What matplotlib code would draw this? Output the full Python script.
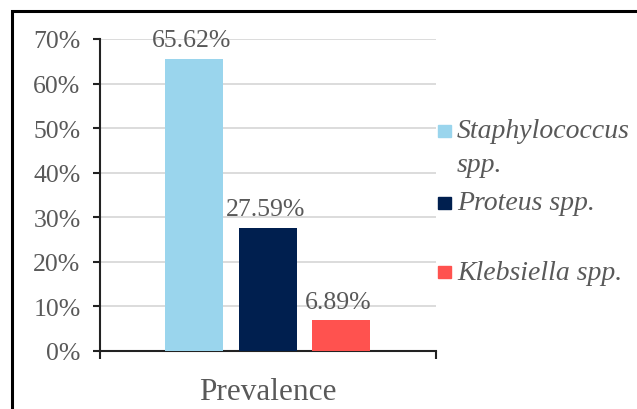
import matplotlib
matplotlib.use("Agg")
import matplotlib.pyplot as plt
from matplotlib.patches import Rectangle
from matplotlib.ticker import FuncFormatter

category = "Prevalence"
series = ["Staphylococcus\nspp.", "Proteus spp.", "Klebsiella spp."]
values = [65.62, 27.59, 6.89]
value_labels = ["65.62%", "27.59%", "6.89%"]
colors = ["#9AD5ED", "#001F4F", "#FF524F"]
yticks = [0, 10, 20, 30, 40, 50, 60, 70]

plt.rcParams['font.family'] = ['Liberation Serif', 'DejaVu Serif']
TXT = "#595959"
FS = 18.5

fig = plt.figure(figsize=(6.37, 4.10), dpi=100)
ax = fig.add_axes([100/637, 1-351.7/410, 336/637, (351.7-40)/410])

offsets = [-0.22, 0.0, 0.218]
width = 0.173
for off, v, c, lab in zip(offsets, values, colors, value_labels):
    ax.bar(off, v, width=width, color=c, zorder=3)
    ax.annotate(lab, (off, v), xytext=(-2, 9), textcoords="offset points",
                ha="center", va="baseline", fontsize=FS, color=TXT, zorder=4)

ax.set_xlim(-0.5, 0.5)
ax.set_ylim(0, 70)
ax.set_yticks(yticks)
ax.yaxis.set_major_formatter(FuncFormatter(lambda y, p: f"{int(y)}%"))
ax.grid(axis="y", color="#D9D9D9", linewidth=1.3, zorder=0)
ax.set_axisbelow(True)

ax.set_xticks([0])
ax.set_xticklabels([category], fontsize=22.5, color=TXT)
ax.tick_params(axis="x", which="major", length=0, pad=19)
ax.set_xticks([-0.5, 0.5], minor=True)
ax.tick_params(axis="x", which="minor", length=6, width=1.5, color="#222222", direction="out")
ax.tick_params(axis="y", length=5, width=1.5, color="#222222", pad=9, labelsize=FS, labelcolor=TXT)

for s in ["top", "right"]:
    ax.spines[s].set_visible(False)
for s in ["left", "bottom"]:
    ax.spines[s].set_color("#222222")
    ax.spines[s].set_linewidth(1.5)

# legend (manual, Excel-like layout)
LFS = 20
leg_y = [132/410, 204/410, 273/410]
for lab, c, y in zip(series, colors, leg_y):
    fig.patches.append(Rectangle((438/637, 1 - y - 6/410), 13/637, 12/410,
                                 transform=fig.transFigure, color=c, figure=fig))
    lines = lab.split("\n")
    for i, line in enumerate(lines):
        fig.text(457/637, 1 - y - i * 34/410, line, fontsize=LFS, style="italic",
                 color=TXT, ha="left", va="center")

# outer border (only left and top visible in the crop)
fig.patches.append(Rectangle((12/637, -0.2), 1.5, 1.2 - 12/410,
                             transform=fig.transFigure, fill=False,
                             edgecolor="black", linewidth=2.2, figure=fig))

fig.savefig("out.png", dpi=100)
